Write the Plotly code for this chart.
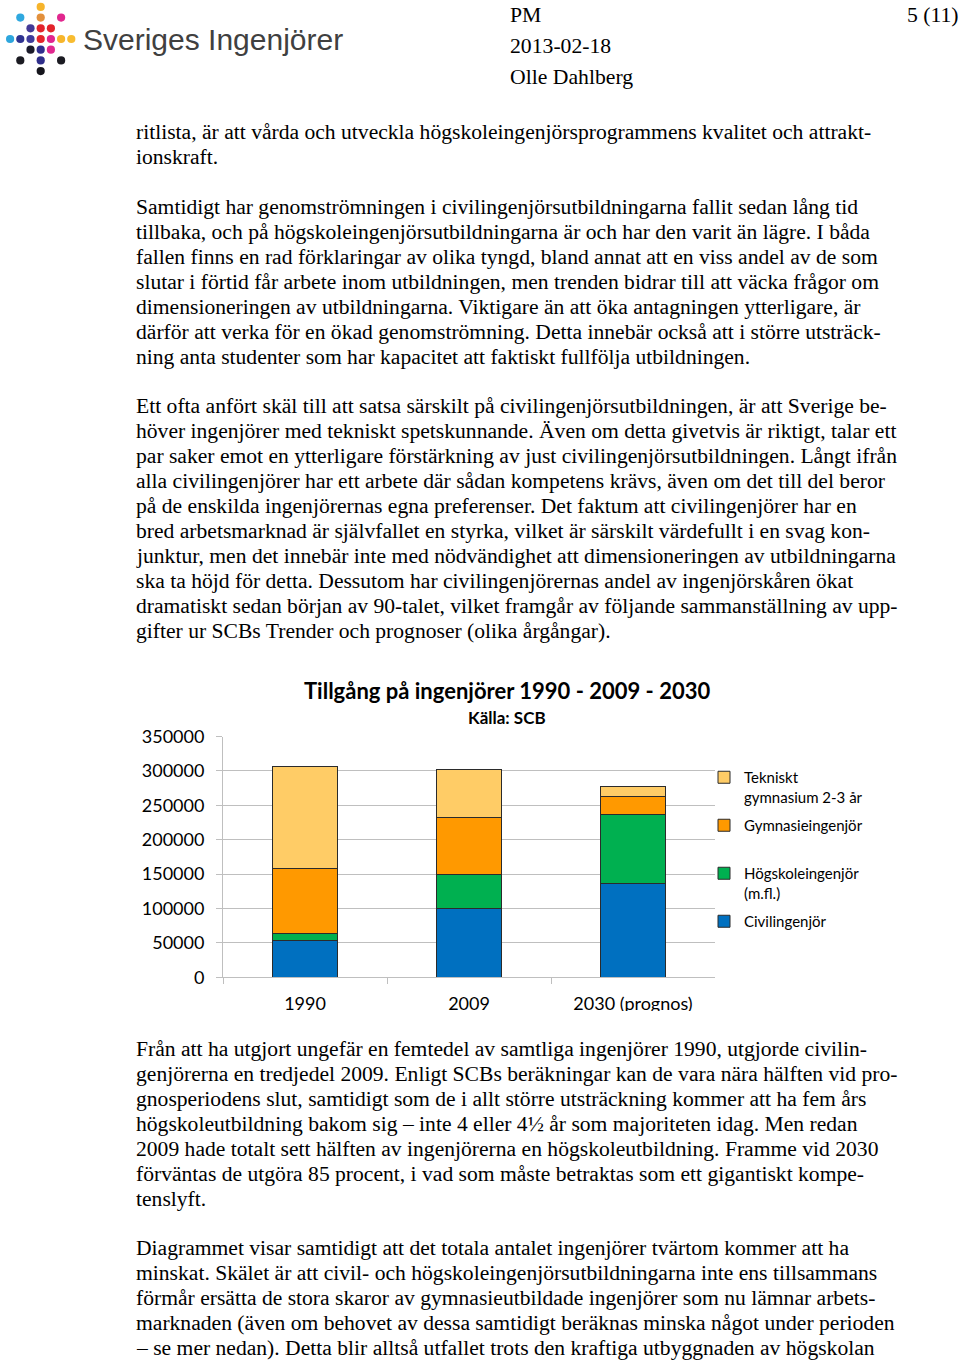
import plotly.graph_objects as go

W, H = 960, 1362

# ---- data ----
categories = ["1990", "2009", "2030 (prognos)"]
civilingenjor = [54000, 100000, 137000]
hogskoleingenjor = [10000, 49000, 99000]
gymnasieingenjor = [94500, 83000, 27500]
tekniskt_gymnasium = [148000, 70500, 14500]

series_names = ["Civilingenjör", "Högskoleingenjör<br>(m.fl.)", "Gymnasieingenjör<br> ",
                "Tekniskt<br>gymnasium 2-3 år"]
series_values = [civilingenjor, hogskoleingenjor, gymnasieingenjor, tekniskt_gymnasium]
series_colors = ["#0070C0", "#00B050", "#FF9900", "#FFCC66"]
series_groups = ["d", "c", "b", "a"]
series_ranks = [4, 3, 2, 1]

y_ticks = [0, 50000, 100000, 150000, 200000, 250000, 300000, 350000]

chart_title = "Tillgång på ingenjörer 1990 - 2009 - 2030"
chart_subtitle = "Källa: SCB"

header_lines = ["PM", "2013-02-18", "Olle Dahlberg"]
page_no = "5 (11)"
logo_text = "Sveriges Ingenjörer"

text_above = [
    (132, "ritlista, är att vårda och utveckla högskoleingenjörsprogrammens kvalitet och attrakt-"),
    (157, "ionskraft."),
    (207, "Samtidigt har genomströmningen i civilingenjörsutbildningarna fallit sedan lång tid"),
    (232, "tillbaka, och på högskoleingenjörsutbildningarna är och har den varit än lägre. I båda"),
    (257, "fallen finns en rad förklaringar av olika tyngd, bland annat att en viss andel av de som"),
    (282, "slutar i förtid får arbete inom utbildningen, men trenden bidrar till att väcka frågor om"),
    (307, "dimensioneringen av utbildningarna. Viktigare än att öka antagningen ytterligare, är"),
    (332, "därför att verka för en ökad genomströmning. Detta innebär också att i större utsträck-"),
    (357, "ning anta studenter som har kapacitet att faktiskt fullfölja utbildningen."),
    (406, "Ett ofta anfört skäl till att satsa särskilt på civilingenjörsutbildningen, är att Sverige be-"),
    (431, "höver ingenjörer med tekniskt spetskunnande. Även om detta givetvis är riktigt, talar ett"),
    (456, "par saker emot en ytterligare förstärkning av just civilingenjörsutbildningen. Långt ifrån"),
    (481, "alla civilingenjörer har ett arbete där sådan kompetens krävs, även om det till del beror"),
    (506, "på de enskilda ingenjörernas egna preferenser. Det faktum att civilingenjörer har en"),
    (531, "bred arbetsmarknad är självfallet en styrka, vilket är särskilt värdefullt i en svag kon-"),
    (556, "junktur, men det innebär inte med nödvändighet att dimensioneringen av utbildningarna"),
    (581, "ska ta höjd för detta. Dessutom har civilingenjörernas andel av ingenjörskåren ökat"),
    (606, "dramatiskt sedan början av 90-talet, vilket framgår av följande sammanställning av upp-"),
    (631, "gifter ur SCBs Trender och prognoser (olika årgångar)."),
]
text_below = [
    (1049, "Från att ha utgjort ungefär en femtedel av samtliga ingenjörer 1990, utgjorde civilin-"),
    (1074, "genjörerna en tredjedel 2009. Enligt SCBs beräkningar kan de vara nära hälften vid pro-"),
    (1099, "gnosperiodens slut, samtidigt som de i allt större utsträckning kommer att ha fem års"),
    (1124, "högskoleutbildning bakom sig – inte 4 eller 4½ år som majoriteten idag. Men redan"),
    (1149, "2009 hade totalt sett hälften av ingenjörerna en högskoleutbildning. Framme vid 2030"),
    (1174, "förväntas de utgöra 85 procent, i vad som måste betraktas som ett gigantiskt kompe-"),
    (1199, "tenslyft."),
    (1248, "Diagrammet visar samtidigt att det totala antalet ingenjörer tvärtom kommer att ha"),
    (1273, "minskat. Skälet är att civil- och högskoleingenjörsutbildningarna inte ens tillsammans"),
    (1298, "förmår ersätta de stora skaror av gymnasieutbildade ingenjörer som nu lämnar arbets-"),
    (1323, "marknaden (även om behovet av dessa samtidigt beräknas minska något under perioden"),
    (1348, "– se mer nedan). Detta blir alltså utfallet trots den kraftiga utbyggnaden av högskolan"),
]

# logo dot pattern: (column, row, colour)
logo_dots = [
    (0, -3, "#F6B42B"),
    (-2, -2, "#2FA8DF"), (0, -2, "#E2903C"), (2, -2, "#E1278E"),
    (-1, -1, "#433A97"), (0, -1, "#E3232B"), (1, -1, "#E3232B"),
    (-3, 0, "#2EA6DD"), (-2, 0, "#2E3290"), (-1, 0, "#3F3C9C"), (0, 0, "#E4252C"),
    (1, 0, "#E1258F"), (2, 0, "#F6B52B"), (3, 0, "#F8BC30"),
    (-1, 1, "#1B1B2B"), (0, 1, "#302E8E"), (1, 1, "#E1288F"),
    (-2, 2, "#1B1B22"), (0, 2, "#2F2E8A"), (2, 2, "#1B1B22"),
    (0, 3, "#15151C"),
]


def px(x):
    return x / W


def py(y):
    return 1 - y / H


fig = go.Figure()
for name, vals, col, grp, rk in zip(series_names, series_values, series_colors,
                                    series_groups, series_ranks):
    fig.add_trace(go.Bar(
        x=categories, y=vals, name=name, legendgroup=grp, legendrank=rk,
        marker=dict(color=col, line=dict(color="#2b2b2b", width=1)),
        width=0.4,
    ))

ann = []
body_font = dict(family="Liberation Serif", size=21.6, color="#000000")
for y, t in text_above + text_below:
    ann.append(dict(x=px(134), y=py(y), text=t, xref="paper", yref="paper",
                    xanchor="left", yanchor="middle", showarrow=False, font=body_font))

head_font = dict(family="Liberation Serif", size=21.7, color="#000000")
for y, t in zip([15, 46, 77], header_lines):
    ann.append(dict(x=px(508), y=py(y), text=t, xref="paper", yref="paper",
                    xanchor="left", yanchor="middle", showarrow=False, font=head_font))
ann.append(dict(x=px(961), y=py(15), text=page_no, xref="paper", yref="paper",
                xanchor="right", yanchor="middle", showarrow=False, font=head_font))

ann.append(dict(x=px(81), y=py(39), text=logo_text, xref="paper", yref="paper",
                xanchor="left", yanchor="middle", showarrow=False,
                font=dict(family="Liberation Sans", size=30, color="#404040")))

ann.append(dict(x=px(507), y=py(691), text="<b>" + chart_title + "</b>", xref="paper", yref="paper",
                xanchor="center", yanchor="middle", showarrow=False,
                font=dict(family="Lato", size=22, color="#000000")))
ann.append(dict(x=px(507), y=py(717), text="<b>" + chart_subtitle + "</b>", xref="paper", yref="paper",
                xanchor="center", yanchor="middle", showarrow=False,
                font=dict(family="Lato", size=17, color="#000000")))

shapes = []
r = 4.1
for c, rw, col in logo_dots:
    cx = 40.7 + c * 10.2
    cy = 39 + rw * 10.7
    shapes.append(dict(type="circle", xref="paper", yref="paper",
                       x0=px(cx - r), x1=px(cx + r), y0=py(cy + r), y1=py(cy - r),
                       fillcolor=col, line=dict(width=0)))
# clipping of the chart picture bottom
shapes.append(dict(type="rect", xref="paper", yref="paper", layer="above",
                   x0=px(130), x1=px(730), y0=py(1030), y1=py(1011),
                   fillcolor="white", line=dict(width=0)))

grid = "#BFBFBF"
fig.update_layout(
    width=W, height=H,
    margin=dict(l=0, r=0, t=0, b=0, pad=0, autoexpand=False),
    paper_bgcolor="white", plot_bgcolor="white",
    barmode="stack",
    annotations=ann, shapes=shapes,
    xaxis=dict(domain=[px(223), px(715)], type="category", tickson="boundaries",
               ticks="outside", ticklen=6, tickcolor=grid, showline=True, linecolor=grid,
               showgrid=False, tickfont=dict(family="Lato", size=18, color="#000"),
               ticklabelstandoff=10, automargin=False),
    yaxis=dict(domain=[py(977.3), py(736.5)], range=[0, 350000], tickvals=y_ticks,
               tickformat="d", ticks="outside", ticklen=6, tickcolor=grid,
               showline=True, linecolor=grid, showgrid=True, gridcolor=grid, gridwidth=1,
               zeroline=False, tickfont=dict(family="Lato", size=18, color="#000"),
               ticklabelstandoff=8, automargin=False),
    legend=dict(x=px(704), y=py(761), xanchor="left", yanchor="top",
                traceorder="grouped", tracegroupgap=6, valign="top",
                font=dict(family="Lato", size=15, color="#000"),
                bgcolor="rgba(0,0,0,0)", itemwidth=30),
    showlegend=True,
)

fig.write_html("out.html", post_script="document.body.style.margin='0';",
               config={"displayModeBar": False})
